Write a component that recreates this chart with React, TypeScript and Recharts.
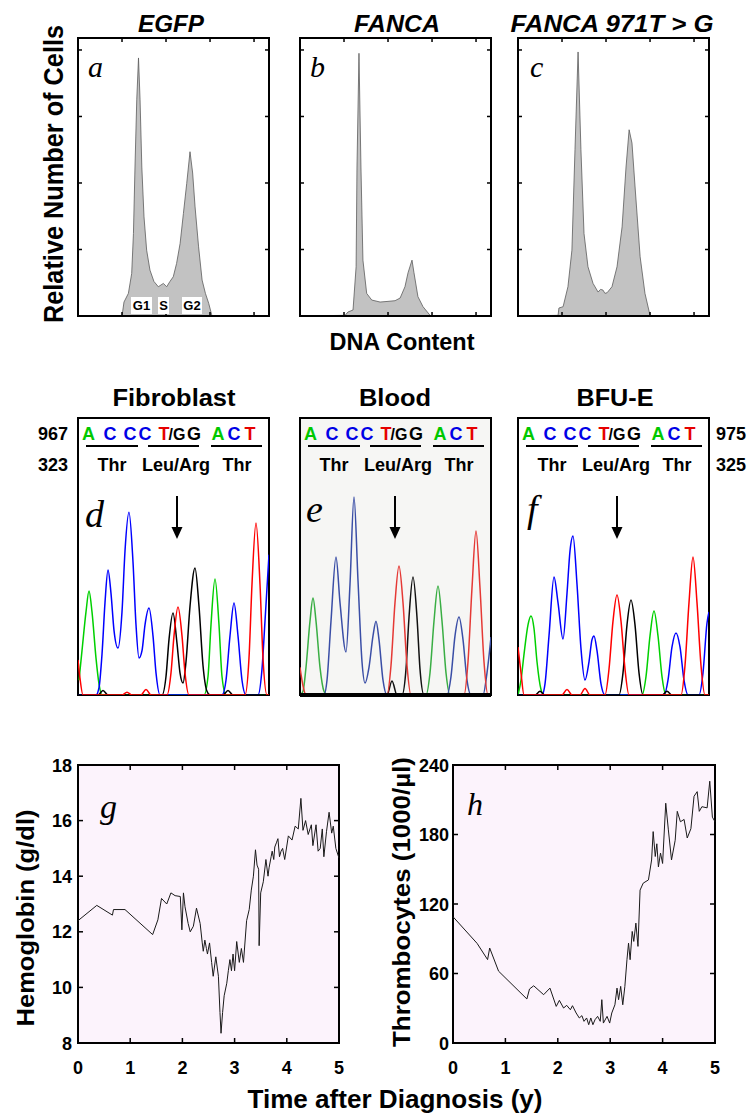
import React from 'react'
import { AreaChart, Area, LineChart, Line, XAxis, YAxis, CartesianGrid, ReferenceArea, ReferenceLine } from 'recharts'

const SANS = "'Liberation Sans', Arial, Helvetica, sans-serif"
const SERIF = "'Liberation Serif', 'Times New Roman', serif"

// ---- flow cytometry (DNA channel, cell count) ----
const histEgfp: [number, number][] = [
  [0, 0], [200, 0], [209, 21], [229, 34], [244, 64], [252, 124], [259, 224], [267, 325], [275, 388],
  [282, 325], [290, 224], [300, 149], [312, 99], [327, 69], [345, 52], [365, 44], [388, 49], [403, 44],
  [418, 52], [433, 59], [448, 79], [464, 109], [479, 154], [494, 199], [509, 247], [521, 215],
  [532, 164], [548, 104], [564, 54], [579, 34], [594, 19], [609, 0], [868, 0],
]
const histFanca: [number, number][] = [
  [0, 0], [205, 1], [218, 6], [241, 9], [255, 74], [259, 224], [268, 395], [277, 224], [286, 84],
  [303, 34], [326, 24], [364, 21], [400, 22], [432, 23], [455, 27], [477, 44], [491, 65], [509, 84],
  [518, 65], [536, 29], [559, 14], [591, 1], [600, 0], [868, 0],
]
const histMutant: [number, number][] = [
  [0, 0], [182, 1], [186, 12], [205, 14], [227, 44], [245, 99], [259, 250], [273, 397], [286, 250],
  [300, 124], [318, 74], [341, 49], [364, 36], [375, 40], [386, 39], [395, 34], [405, 35], [427, 44],
  [450, 74], [473, 134], [491, 224], [505, 280], [518, 260], [532, 194], [555, 89], [577, 34],
  [600, 1], [610, 0], [868, 0],
]
const histTitles = ['EGFP', 'FANCA', 'FANCA 971T > G']
const histLetters = ['a', 'b', 'c']
const channelTicks = [200, 400, 600, 800]
const countTicks = [100, 200, 300, 400]

// ---- sequencing traces (scan position, signal) ----
const fibroA: [number, number][] = [[1, 8], [4, 24], [8, 45], [11, 56.3], [14, 45], [18, 20], [21, 6], [24, 0], [126, 0], [130, 10], [133, 38], [137, 62.8], [141, 38], [144, 10], [148, 0], [191, 0]]
const fibroC: [number, number][] = [[0, 0], [18, 0], [21, 4], [24, 22], [27, 50], [30, 67.7], [33, 55], [36, 35], [40, 25.4], [44, 45], [47, 78], [51, 99], [55, 72], [58, 38], [61, 20], [64, 24], [67, 38], [71, 47.1], [75, 32], [78, 12], [82, 0], [144, 0], [148, 8], [152, 32], [156, 49.8], [160, 32], [164, 8], [168, 0], [180, 0], [184, 14], [187, 40], [191, 76]]
const fibroG: [number, number][] = [[0, 0], [20, 0], [25, 2.5], [30, 0], [84, 0], [88, 10], [91, 30], [95, 44.4], [99, 28], [102, 12], [105, 6.5], [108, 18], [112, 48], [117, 68.8], [121, 48], [125, 16], [129, 2], [132, 0], [145, 0], [150, 2.5], [155, 0], [191, 0]]
const fibroT: [number, number][] = [[0, 19], [2, 9], [5, 0], [44, 0], [49, 1.5], [54, 0], [63, 0], [68, 3], [73, 0], [89, 0], [93, 12], [96, 32], [100, 47.6], [104, 32], [107, 12], [111, 0], [167, 0], [171, 20], [174, 60], [178, 93.1], [182, 60], [185, 20], [189, 0], [191, 0]]

const bloodA: [number, number][] = [[0, 0], [3, 2], [6, 15], [10, 40], [13, 52.5], [16, 40], [20, 15], [24, 2], [27, 0], [126, 0], [130, 12], [134, 40], [138, 59], [142, 40], [146, 12], [150, 0], [191, 0]]
const bloodC: [number, number][] = [[0, 0], [24, 0], [27, 8], [31, 40], [36, 74.7], [40, 50], [46, 23.3], [50, 60], [54, 107.2], [58, 62], [62, 18], [65, 6.5], [69, 15], [73, 32], [76, 40], [79, 30], [83, 8], [87, 0], [147, 0], [151, 10], [155, 32], [159, 42.2], [163, 30], [167, 8], [171, 0], [183, 0], [187, 12], [191, 31.4]]
const bloodG: [number, number][] = [[0, 0], [87, 0], [92, 7.6], [97, 0], [102, 0], [106, 14], [109, 42], [113, 63.9], [117, 42], [120, 14], [124, 0], [191, 0]]
const bloodT: [number, number][] = [[0, 15], [3, 5], [6, 0], [87, 0], [91, 16], [95, 50], [99, 69.8], [103, 50], [107, 16], [111, 0], [164, 0], [168, 18], [172, 58], [176, 88.8], [180, 58], [184, 18], [188, 0], [191, 0]]

const bfueA: [number, number][] = [[0, 0], [3, 8], [6, 22], [10, 38], [13, 42.8], [16, 36], [19, 18], [23, 3], [26, 0], [124, 0], [128, 10], [132, 32], [136, 45.5], [140, 32], [144, 10], [148, 0], [191, 0]]
const bfueC: [number, number][] = [[0, 0], [24, 0], [27, 6], [31, 32], [36, 63.9], [40, 50], [45, 30.3], [49, 55], [52, 78], [55, 86.1], [59, 60], [63, 25], [67, 8.1], [71, 18], [74, 30], [76, 32], [79, 24], [83, 6], [87, 0], [146, 0], [150, 8], [154, 26], [158, 33.6], [162, 26], [166, 8], [170, 0], [181, 0], [185, 12], [189, 39], [191, 45]]
const bfueG: [number, number][] = [[0, 0], [17, 0], [22, 2], [27, 0], [101, 0], [105, 12], [109, 38], [113, 51.4], [117, 38], [121, 12], [125, 0], [144, 0], [149, 2], [154, 0], [191, 0]]
const bfueT: [number, number][] = [[0, 26], [3, 12], [6, 0], [44, 0], [49, 3], [54, 0], [62, 0], [67, 3.5], [72, 0], [87, 0], [91, 14], [95, 40], [99, 54.1], [103, 40], [107, 14], [111, 0], [163, 0], [167, 16], [171, 50], [175, 74.7], [179, 50], [183, 16], [187, 0], [191, 0]]

const seqTitles = ['Fibroblast', 'Blood', 'BFU-E']
const seqLetters = ['d', 'e', 'f']
const bases = ['A', 'C', 'C', 'C', 'T', '/G', 'G', 'A', 'C', 'T']
const codons = ['Thr', 'Leu/Arg', 'Thr']

// ---- blood counts ----
const hbYears = [0, 0.36, 0.66, 0.68, 0.9, 1.43, 1.53, 1.6, 1.7, 1.78, 1.86, 1.96, 1.99, 2.02, 2.05, 2.11, 2.15, 2.21, 2.27, 2.34, 2.38, 2.4, 2.43, 2.46, 2.48, 2.52, 2.56, 2.59, 2.64, 2.69, 2.72, 2.74, 2.77, 2.8, 2.85, 2.88, 2.91, 2.94, 2.97, 3.0, 3.04, 3.09, 3.13, 3.17, 3.23, 3.28, 3.32, 3.36, 3.4, 3.43, 3.46, 3.47, 3.5, 3.55, 3.6, 3.64, 3.66, 3.7, 3.72, 3.75, 3.77, 3.8, 3.83, 3.86, 3.89, 3.92, 3.96, 4.03, 4.1, 4.16, 4.22, 4.27, 4.31, 4.36, 4.41, 4.47, 4.5, 4.56, 4.6, 4.64, 4.68, 4.71, 4.76, 4.81, 4.86, 4.89, 4.94, 5.0]
const hbValues = [12.4, 12.95, 12.6, 12.8, 12.8, 11.9, 12.43, 13.2, 13.0, 13.4, 13.3, 13.27, 12.07, 13.4, 12.9, 12.3, 12.0, 12.2, 12.85, 12.3, 11.6, 11.3, 11.7, 11.4, 11.2, 11.6, 10.9, 10.4, 11.1, 10.4, 9.1, 8.35, 9.1, 9.7, 10.15, 10.6, 11.0, 10.6, 11.2, 10.6, 11.65, 10.9, 11.4, 10.9, 12.4, 12.8, 13.5, 14.0, 14.95, 14.4, 14.25, 11.5, 13.4, 13.8, 14.6, 14.0, 14.3, 14.7, 14.9, 14.6, 15.05, 15.2, 15.35, 14.7, 14.9, 15.0, 14.6, 15.45, 15.3, 15.8, 15.7, 16.8, 15.65, 16.0, 15.5, 15.85, 15.1, 15.85, 14.9, 15.0, 15.7, 14.7, 15.6, 16.3, 15.55, 15.8, 15.0, 14.65]
const pltYears = [0, 0.46, 0.66, 0.7, 0.87, 1.41, 1.46, 1.54, 1.73, 1.85, 1.97, 2.03, 2.11, 2.17, 2.24, 2.28, 2.35, 2.41, 2.46, 2.5, 2.55, 2.59, 2.63, 2.67, 2.71, 2.76, 2.81, 2.84, 2.87, 2.94, 2.99, 3.03, 3.09, 3.13, 3.16, 3.2, 3.24, 3.28, 3.32, 3.35, 3.38, 3.42, 3.45, 3.49, 3.53, 3.57, 3.63, 3.73, 3.79, 3.82, 3.86, 3.89, 3.92, 3.96, 4.0, 4.06, 4.11, 4.17, 4.24, 4.28, 4.34, 4.41, 4.47, 4.54, 4.6, 4.66, 4.7, 4.75, 4.85, 4.9, 4.95, 5.0]
const pltValues = [109, 86, 72, 82, 62, 38, 46.6, 49.4, 41.7, 47.4, 31.6, 36.8, 30.2, 32.5, 28.7, 32.2, 25.9, 21.6, 23.6, 18.7, 21.6, 15.8, 21.6, 15.8, 20.1, 23, 18.7, 37.4, 17.2, 23, 17.2, 25.9, 33, 47.4, 37.4, 48.9, 33, 48.9, 71.9, 86.2, 71.9, 96.3, 87.7, 103.5, 83.4, 132, 138, 140.8, 158, 182.5, 161, 172, 152, 164, 155, 207, 184, 158, 175, 200, 191, 193, 177, 185, 213, 217, 200, 204, 203, 226, 195, 191]
const yearTicks = [0, 1, 2, 3, 4, 5]
const hbTicks = [8, 10, 12, 14, 16, 18]
const pltTicks = [0, 60, 120, 180, 240]

const toPts = (arr: [number, number][]) => arr.map(([x, v]) => ({ x, v }))

// inner tick marks on both opposite sides, optional label outside
function xTick(plotH: number, len: number, label: boolean) {
  return (p: any) => (
    <g>
      <line x1={p.x} x2={p.x} y1={p.y} y2={p.y - len} stroke="#000" strokeWidth={1.5} />
      <line x1={p.x} x2={p.x} y1={p.y - plotH} y2={p.y - plotH + len} stroke="#000" strokeWidth={1.5} />
      {label && (
        <text x={p.x} y={p.y + 31} textAnchor="middle" fontFamily={SANS} fontWeight={700} fontSize={18} fill="#000">
          {p.payload.value}
        </text>
      )}
    </g>
  )
}
function yTick(plotW: number, len: number, gap: number | null) {
  return (p: any) => (
    <g>
      <line x1={p.x} x2={p.x + len} y1={p.y} y2={p.y} stroke="#000" strokeWidth={1.5} />
      <line x1={p.x + plotW} x2={p.x + plotW - len} y1={p.y} y2={p.y} stroke="#000" strokeWidth={1.5} />
      {gap !== null && (
        <text x={p.x - gap} y={p.y + 6.5} textAnchor="end" fontFamily={SANS} fontWeight={700} fontSize={18} fill="#000">
          {p.payload.value}
        </text>
      )}
    </g>
  )
}

function Histogram({ data, left }: { data: [number, number][]; left: number }) {
  return (
    <div style={{ position: 'absolute', left: left - 2, top: 36 }}>
      <AreaChart width={195} height={282} data={toPts(data)} margin={{ top: 2, right: 2, bottom: 0, left: 0 }}>
        <XAxis type="number" dataKey="x" domain={[0, 868]} ticks={channelTicks} interval={0} height={2}
          tickSize={0} tickMargin={0} axisLine={false} tickLine={false} tick={xTick(278, 4, false)} />
        <YAxis type="number" domain={[0, 418]} ticks={countTicks} interval={0} width={2}
          tickSize={0} tickMargin={0} axisLine={false} tickLine={false} tick={yTick(191, 4, null)} />
        <Area type="linear" dataKey="v" fill="#c2c2c2" fillOpacity={1} stroke="#5c5c5c" strokeWidth={0.8} isAnimationActive={false} />
        <ReferenceArea x1={0} x2={868} y1={0} y2={418} fill="none" stroke="#000" strokeWidth={2} ifOverflow="extendDomain" />
      </AreaChart>
    </div>
  )
}

type Trace = { color: string; pts: [number, number][] }

function Chromatogram({ left, traces, bg }: { left: number; traces: Trace[]; bg?: string }) {
  return (
    <div style={{ position: 'absolute', left: left - 2, top: 416 }}>
      <LineChart width={195} height={281} margin={{ top: 2, right: 2, bottom: 2, left: 2 }}>
        {bg && <CartesianGrid fill={bg} horizontal={false} vertical={false} />}
        <XAxis type="number" dataKey="x" domain={[0, 191]} allowDataOverflow hide />
        <YAxis type="number" domain={[0, 150]} allowDataOverflow hide />
        {traces.map((t, i) => (
          <Line key={i} data={toPts(t.pts)} dataKey="v" type="monotone" stroke={t.color} strokeWidth={1.5} dot={false} isAnimationActive={false} />
        ))}
        <ReferenceArea x1={0} x2={191} y1={0} y2={150} fill="none" stroke="#000" strokeWidth={2} ifOverflow="extendDomain" />
        {bg && <ReferenceLine y={0} stroke="#000" strokeWidth={4} />}
      </LineChart>
    </div>
  )
}

function TimeSeries({ left, plotW, years, values, yDomain, yTicks, gap }: {
  left: number; plotW: number; years: number[]; values: number[]; yDomain: [number, number]; yTicks: number[]; gap: number
}) {
  const data = years.map((t, i) => ({ t, v: values[i] }))
  return (
    <div style={{ position: 'absolute', left: left - 60, top: 753 }}>
      <LineChart width={60 + plotW + 14} height={330} data={data} margin={{ top: 12, right: 14, bottom: 0, left: 0 }}>
        <CartesianGrid fill="#fcf3fc" horizontal={false} vertical={false} />
        <XAxis type="number" dataKey="t" domain={[0, 5]} ticks={yearTicks} interval={0} height={40}
          tickSize={0} tickMargin={0} axisLine={false} tickLine={false} tick={xTick(278, 5, true)} />
        <YAxis type="number" domain={yDomain} ticks={yTicks} interval={0} width={60}
          tickSize={0} tickMargin={0} axisLine={false} tickLine={false} tick={yTick(plotW, 5, gap)} />
        <Line dataKey="v" type="linear" stroke="#1a1a1a" strokeWidth={1} dot={false} isAnimationActive={false} />
        <ReferenceArea x1={0} x2={5} y1={yDomain[0]} y2={yDomain[1]} fill="none" stroke="#000" strokeWidth={2} ifOverflow="extendDomain" />
      </LineChart>
    </div>
  )
}

const baseColor: Record<string, string> = { A: '#00c800', C: '#0000e6', T: '#e60000' }
const baseRel = [10.5, 32, 52, 67, 86, 99, 116, 140, 156, 172]
const codonRel = [34, 98, 159]
const codonLine = [[8, 60], [70, 121], [133, 184]]
const boxLefts = [78, 300, 518]
const arrowX = [177, 395, 617]

export default function App() {
  const bold = { fontFamily: SANS, fontWeight: 700, fill: '#000' } as const
  return (
    <div style={{ position: 'absolute', left: 0, top: 0, width: 751, height: 1118, background: '#fff' }}>
      <Histogram data={histEgfp} left={78} />
      <Histogram data={histFanca} left={300} />
      <Histogram data={histMutant} left={518} />

      <Chromatogram left={78} traces={[
        { color: '#00d000', pts: fibroA }, { color: '#0000ff', pts: fibroC },
        { color: '#000', pts: fibroG }, { color: '#ff0000', pts: fibroT },
      ]} />
      <Chromatogram left={300} bg="#f6f6f4" traces={[
        { color: '#3aae44', pts: bloodA }, { color: '#3a4ea6', pts: bloodC },
        { color: '#111', pts: bloodG }, { color: '#e53935', pts: bloodT },
      ]} />
      <Chromatogram left={518} traces={[
        { color: '#00d000', pts: bfueA }, { color: '#0000ff', pts: bfueC },
        { color: '#000', pts: bfueG }, { color: '#ff0000', pts: bfueT },
      ]} />

      <TimeSeries left={78} plotW={261} years={hbYears} values={hbValues} yDomain={[8, 18]} yTicks={hbTicks} gap={6} />
      <TimeSeries left={453} plotW={262} years={pltYears} values={pltValues} yDomain={[0, 240]} yTicks={pltTicks} gap={4} />

      <svg width={751} height={1118} style={{ position: 'absolute', left: 0, top: 0, pointerEvents: 'none' }}>
        {/* top row */}
        {histTitles.map((t, i) => (
          <text key={t} x={[171, 397, 612][i]} y={32} textAnchor="middle" fontSize={24} fontStyle="italic"
            textLength={[66, 86, 203][i]} lengthAdjust="spacingAndGlyphs" {...bold}>{t}</text>
        ))}
        {histLetters.map((l, i) => (
          <text key={l} x={[88, 310, 530][i]} y={77} fontFamily={SERIF} fontStyle="italic" fontSize={30}>{l}</text>
        ))}
        {[['G1', 131, 21], ['S', 158, 11], ['G2', 182, 20]].map(([t, x, w]) => (
          <g key={t as string}>
            <rect x={x as number} y={297} width={w as number} height={17} fill="#fff" />
            <text x={(x as number) + (w as number) / 2} y={310} textAnchor="middle" fontSize={13} {...bold}>{t}</text>
          </g>
        ))}
        <text transform="translate(63,174) rotate(-90)" textAnchor="middle" fontSize={27} textLength={298} lengthAdjust="spacingAndGlyphs" {...bold}>Relative Number of Cells</text>
        <text x={402} y={350} textAnchor="middle" fontSize={23} textLength={145} lengthAdjust="spacingAndGlyphs" {...bold}>DNA Content</text>

        {/* middle row */}
        {seqTitles.map((t, i) => (
          <text key={t} x={[174, 395, 615][i]} y={406} textAnchor="middle" fontSize={24}
            textLength={[123, 72, 77][i]} lengthAdjust="spacingAndGlyphs" {...bold}>{t}</text>
        ))}
        <text x={53} y={440} textAnchor="middle" fontSize={18} {...bold}>967</text>
        <text x={53} y={471} textAnchor="middle" fontSize={18} {...bold}>323</text>
        <text x={731} y={440} textAnchor="middle" fontSize={18} {...bold}>975</text>
        <text x={731} y={471} textAnchor="middle" fontSize={18} {...bold}>325</text>
        {boxLefts.map((bx, k) => (
          <g key={bx}>
            {bases.map((b, j) => (
              <text key={j} x={bx + baseRel[j]} y={440} textAnchor="middle" fontSize={b === '/G' ? 16 : 18}
                {...bold} fill={baseColor[b] ?? '#000'}>{b}</text>
            ))}
            {codonLine.map(([a, c], j) => (
              <line key={j} x1={bx + a} x2={bx + c} y1={446} y2={446} stroke="#000" strokeWidth={2} />
            ))}
            {codons.map((c, j) => (
              <text key={j} x={bx + codonRel[j]} y={471} textAnchor="middle" fontSize={18} {...bold}>{c}</text>
            ))}
            <text x={bx + [7, 6, 9][k]} y={[527, 522, 522][k]} fontFamily={SERIF} fontStyle="italic" fontSize={38}>{seqLetters[k]}</text>
            <line x1={arrowX[k]} x2={arrowX[k]} y1={496} y2={530} stroke="#000" strokeWidth={2} />
            <polygon points={`${arrowX[k] - 5.5},527 ${arrowX[k] + 5.5},527 ${arrowX[k]},539`} fill="#000" />
          </g>
        ))}

        {/* bottom row */}
        <text x={100} y={818} fontFamily={SERIF} fontStyle="italic" fontSize={34}>g</text>
        <text x={467} y={815} fontFamily={SERIF} fontStyle="italic" fontSize={32}>h</text>
        <text transform="translate(34,918) rotate(-90)" textAnchor="middle" fontSize={24} textLength={217} lengthAdjust="spacingAndGlyphs" {...bold}>Hemoglobin (g/dl)</text>
        <text transform="translate(410,902) rotate(-90)" textAnchor="middle" fontSize={24} textLength={290} lengthAdjust="spacingAndGlyphs" {...bold}>Thrombocytes (1000/µl)</text>
        <text x={395} y={1108} textAnchor="middle" fontSize={25} textLength={295} lengthAdjust="spacingAndGlyphs" {...bold}>Time after Diagnosis (y)</text>
      </svg>
    </div>
  )
}
